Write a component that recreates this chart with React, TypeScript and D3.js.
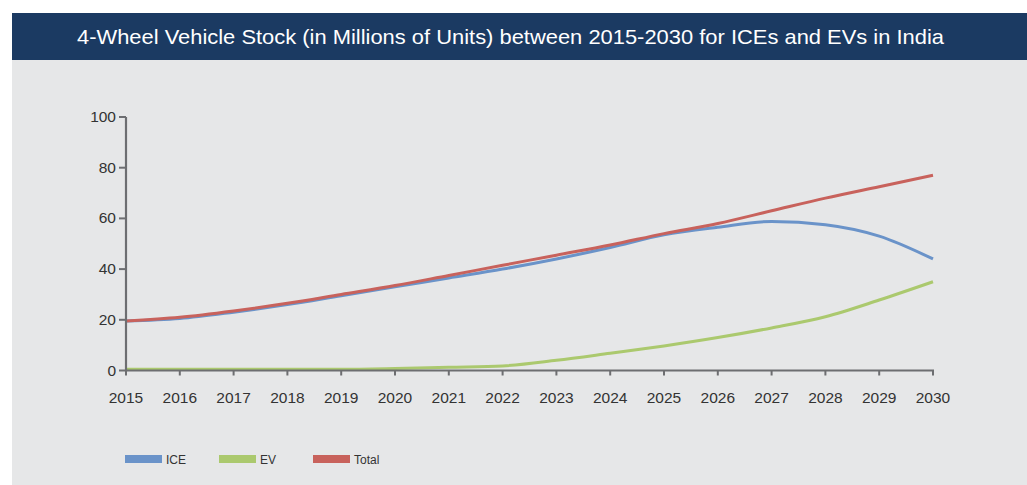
import React from "react";
import * as d3 from "d3";

const years = [2015, 2016, 2017, 2018, 2019, 2020, 2021, 2022, 2023, 2024, 2025, 2026, 2027, 2028, 2029, 2030];
const iceValues = [19.5, 20.5, 23, 26, 29.5, 33, 36.5, 40, 44, 48.5, 53.5, 56.5, 58.8, 57.5, 53, 44];
const evValues = [0.5, 0.5, 0.5, 0.5, 0.5, 0.8, 1.3, 1.8, 4, 6.8, 9.7, 13, 16.8, 21.2, 27.8, 35];
const totalValues = [19.5, 21, 23.5, 26.5, 30, 33.5, 37.5, 41.5, 45.5, 49.5, 54, 58, 63, 68, 72.5, 77];
const yTicks = [0, 20, 40, 60, 80, 100];
const title = "4-Wheel Vehicle Stock (in Millions of Units) between 2015-2030 for ICEs and EVs in India";

const series = [
  { name: "ICE", values: iceValues, color: "#6a93c9" },
  { name: "EV", values: evValues, color: "#abc96e" },
  { name: "Total", values: totalValues, color: "#c8625c" },
];

export default function App() {
  const W = 1027, H = 485;
  const x = d3.scaleLinear().domain([2015, 2030]).range([126, 933]);
  const y = d3.scaleLinear().domain([0, 100]).range([370.5, 117]);
  const line = d3
    .line<[number, number]>()
    .x((d) => x(d[0]))
    .y((d) => y(d[1]))
    .curve(d3.curveMonotoneX);
  const font = "'Liberation Sans', Arial, Helvetica, sans-serif";
  const axisColor = "#6d6e71";
  const legendX = [125, 219, 313];
  return (
    <svg width={W} height={H} style={{ position: "absolute", left: 0, top: 0 }} fontFamily={font}>
      <rect x={0} y={0} width={W} height={H} fill="#ffffff" />
      <rect x={12} y={60} width={W - 12} height={H - 60} fill="#e6e7e8" />
      <rect x={12} y={13} width={W - 12} height={47} fill="#1b3a62" />
      <text
        x={77}
        y={43.5}
        fill="#ffffff"
        fontSize={21}
        textLength={867}
        lengthAdjust="spacingAndGlyphs"
      >
        {title}
      </text>
      {/* lines */}
      {series.map((s) => (
        <path
          key={s.name}
          d={line(years.map((yr, i) => [yr, s.values[i]]) as [number, number][]) || ""}
          fill="none"
          stroke={s.color}
          strokeWidth={3}
        />
      ))}
      {/* y axis */}
      <line x1={x(2015)} x2={x(2015)} y1={y(100)} y2={y(0) + 1} stroke={axisColor} strokeWidth={2.2} />
      {yTicks.map((t) => (
        <g key={t}>
          <line x1={x(2015) - 7} x2={x(2015)} y1={y(t)} y2={y(t)} stroke={axisColor} strokeWidth={2} />
          <text x={x(2015) - 10} y={y(t) + 5} fontSize={15.5} fill="#333333" textAnchor="end">
            {t}
          </text>
        </g>
      ))}
      {/* x axis */}
      <line x1={x(2015) - 1} x2={x(2030) + 1} y1={y(0)} y2={y(0)} stroke={axisColor} strokeWidth={2.2} />
      {years.map((yr) => (
        <g key={yr}>
          <line x1={x(yr)} x2={x(yr)} y1={y(0)} y2={y(0) + 5} stroke={axisColor} strokeWidth={2} />
          <text x={x(yr)} y={y(0) + 32} fontSize={15.5} fill="#333333" textAnchor="middle">
            {yr}
          </text>
        </g>
      ))}
      {/* legend */}
      {series.map((s, i) => (
        <g key={s.name}>
          <rect x={legendX[i]} y={455} width={37} height={8} fill={s.color} />
          <text x={legendX[i] + 41} y={463.5} fontSize={12} fill="#333333">
            {s.name}
          </text>
        </g>
      ))}
    </svg>
  );
}
